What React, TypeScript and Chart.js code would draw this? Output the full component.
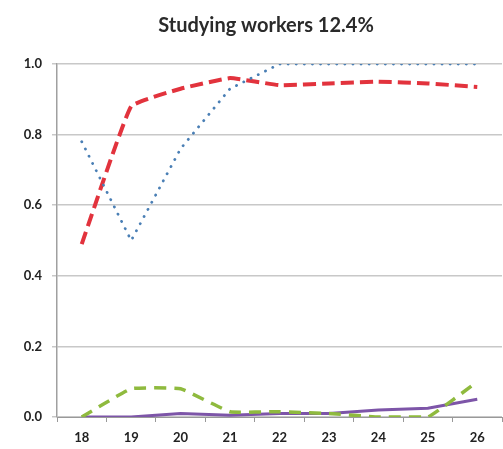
import React, { useEffect, useRef } from "react";
import { Chart, registerables } from "chart.js";

Chart.register(...registerables);

const ages = ["18", "19", "20", "21", "22", "23", "24", "25", "26"];
const redSeries = [0.49, 0.88, 0.93, 0.96, 0.94, 0.945, 0.95, 0.945, 0.935];
const blueSeries = [0.78, 0.5, 0.76, 0.93, 1.0, 1.0, 1.0, 1.0, 1.0];
const greenSeries = [0.0, 0.08, 0.08, 0.015, 0.015, 0.01, 0.0, 0.0, 0.1];
const purpleSeries = [0.0, 0.0, 0.01, 0.005, 0.01, 0.01, 0.02, 0.025, 0.05];
const titleText = "Studying workers 12.4%";

const shiftTitle = {
  id: "shiftTitle",
  afterLayout(chart: any) {
    const t = chart.titleBlock;
    if (t) {
      t.left += 30;
    }
  },
};

export default function App() {
  const ref = useRef<HTMLCanvasElement>(null);
  useEffect(() => {
    const ctx = ref.current!;
    const chart = new Chart(ctx, {
      type: "line",
      data: {
        labels: ages,
        datasets: [
          {
            data: blueSeries,
            borderColor: "#4a7fb5",
            borderWidth: 2.8,
            borderDash: [0.1, 8],
            borderCapStyle: "round",
            pointRadius: 0,
            tension: 0,
          },
          {
            data: redSeries,
            borderColor: "#e2333d",
            borderWidth: 4,
            borderDash: [13, 6],
            pointRadius: 0,
            tension: 0.1,
          },
          {
            data: greenSeries,
            borderColor: "#8fba3e",
            borderWidth: 3.5,
            borderDash: [12, 8],
            pointRadius: 0,
            tension: 0.1,
          },
          {
            data: purpleSeries,
            borderColor: "#7d55a8",
            borderWidth: 3,
            pointRadius: 0,
            tension: 0,
          },
        ],
      },
      plugins: [shiftTitle],
      options: {
        animation: false,
        responsive: false,
        layout: { padding: { left: 0, right: 1, top: 0, bottom: 0 } },
        plugins: {
          legend: { display: false },
          tooltip: { enabled: false },
          title: {
            display: true,
            text: titleText,
            color: "#2a2a2a",
            font: { family: "Lato", size: 20, weight: "bold" },
            padding: { top: 14, bottom: 26 },
          },
        },
        scales: {
          x: {
            offset: true,
            grid: {
              offset: true,
              drawOnChartArea: false,
              drawTicks: true,
              tickLength: 5,
              color: "#999",
            },
            border: { display: true, color: "#999", width: 1 },
            ticks: {
              color: "#222",
              font: { family: "Lato", size: 13, weight: "bold" },
              padding: 8,
              maxRotation: 0,
            },
            afterFit: (s: any) => {
              s.height = 32;
            },
          },
          y: {
            min: 0,
            max: 1,
            ticks: {
              stepSize: 0.2,
              color: "#222",
              font: { family: "Lato", size: 13, weight: "bold" },
              padding: 10,
              callback: (v: any) => Number(v).toFixed(1),
            },
            grid: { color: "#c8c8c8", lineWidth: 1.5, tickLength: 5 },
            border: { display: true, color: "#a0a0a0", width: 1.5 },
            afterFit: (s: any) => {
              s.width = 57;
            },
          },
        },
      },
    });
    return () => chart.destroy();
  }, []);
  return (
    <div style={{ position: "fixed", left: 0, top: 0, width: 503, height: 449, background: "#fff" }}>
      <canvas ref={ref} width={503} height={449} />
    </div>
  );
}
